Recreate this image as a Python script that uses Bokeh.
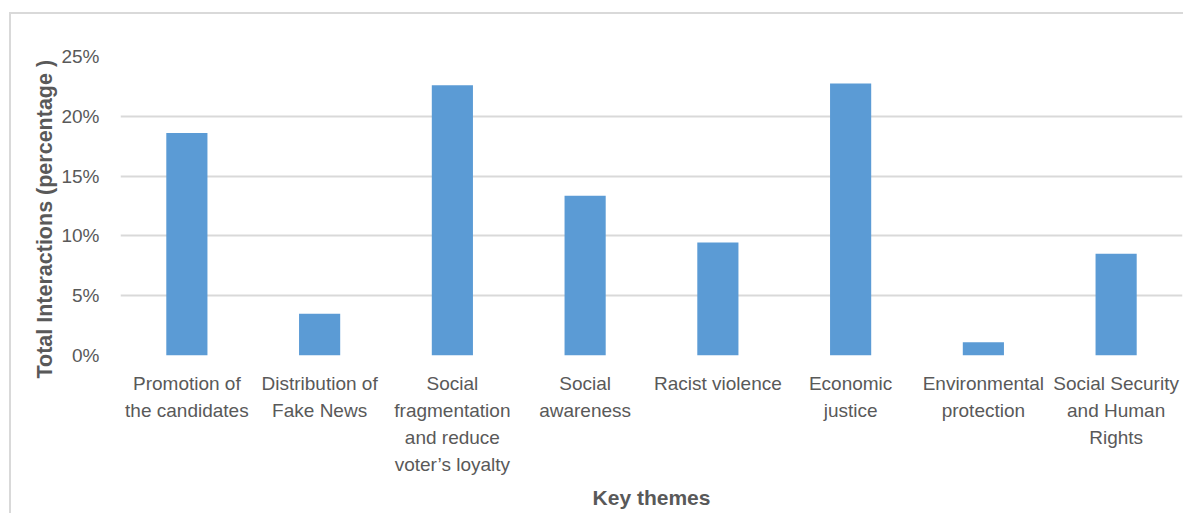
from bokeh.plotting import figure
from bokeh.models import PrintfTickFormatter, FixedTicker, Title
from bokeh.embed import file_html
from bokeh.resources import INLINE

categories = [
    "Promotion of\nthe candidates",
    "Distribution of\nFake News",
    "Social\nfragmentation\nand reduce\nvoter\u2019s loyalty",
    "Social\nawareness",
    "Racist violence",
    "Economic\njustice",
    "Environmental\nprotection",
    "Social Security\nand Human\nRights",
]
values = [18.6, 3.5, 22.6, 13.35, 9.45, 22.75, 1.1, 8.5]
y_ticks = [0, 5, 10, 15, 20, 25]

FONT = "Liberation Sans"
GREY = "#595959"

p = figure(
    x_range=categories, y_range=(0, 25),
    width=1174, height=501,
    output_backend="svg", toolbar_location=None,
    min_border_left=109, min_border_right=3,
    min_border_top=42, min_border_bottom=160,
)
p.styles = {
    "border-left": "2px solid #d9d9d9",
    "border-top": "2px solid #d9d9d9",
    "margin-left": "9px",
    "margin-top": "12px",
}

p.vbar(x=categories, top=values, width=0.31, color="#5b9bd5", line_color=None)

p.outline_line_color = None
p.xgrid.grid_line_color = None
p.ygrid.grid_line_color = "#d9d9d9"
p.ygrid.grid_line_width = 2
p.yaxis.ticker = FixedTicker(ticks=y_ticks)
p.yaxis.formatter = PrintfTickFormatter(format="%d%%")

for ax in (p.xaxis[0], p.yaxis[0]):
    ax.axis_line_color = None
    ax.major_tick_line_color = None
    ax.minor_tick_line_color = None
    ax.major_tick_out = 0
    ax.major_tick_in = 0
    ax.minor_tick_out = 0
    ax.major_label_text_font = FONT
    ax.major_label_text_font_size = "19px"
    ax.major_label_text_color = GREY
    ax.axis_label_text_font = FONT
    ax.axis_label_text_font_size = "21px"
    ax.axis_label_text_font_style = "bold"
    ax.axis_label_text_color = GREY

p.yaxis.major_label_standoff = 21

ytitle = Title(
    text="Total Interactions (percentage )", align="left", offset=-23,
    text_font=FONT, text_font_size="21.5px", text_font_style="bold",
    text_color=GREY, standoff=4,
)
p.add_layout(ytitle, "left")

p.xaxis.axis_label = "Key themes"
p.xaxis.major_label_text_line_height = 1.3
p.xaxis.major_label_standoff = 17
p.xaxis.axis_label_standoff = 8

open("out.html", "w").write(file_html(p, INLINE))
